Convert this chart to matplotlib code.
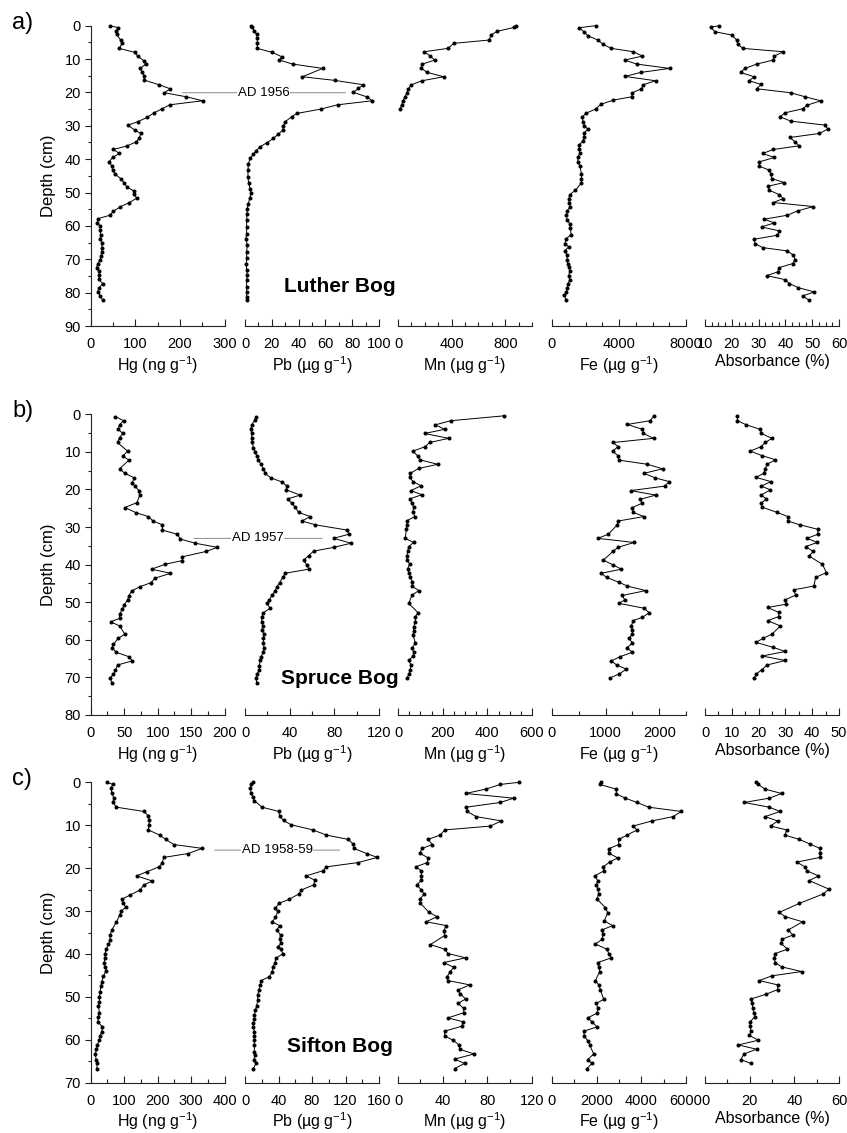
import matplotlib.pyplot as plt
import numpy as np
from matplotlib.patches import ConnectionPatch
from matplotlib.ticker import MultipleLocator

plt.rcParams['font.family'] = ['Liberation Sans', 'DejaVu Sans']
plt.rcParams['mathtext.fontset'] = 'custom'
plt.rcParams['mathtext.rm'] = 'Liberation Sans'
plt.rcParams['mathtext.it'] = 'Liberation Sans:italic'

# ---------------- a) Luther Bog ----------------
luther_hg_d = [0, 0.6, 1.5, 2.6, 4.3, 5.3, 6.8, 8.0, 9.1, 10.6, 11.5, 12.8, 13.8, 15.1, 16.3, 17.7, 18.9, 20.1,
               21.3, 22.5, 23.7, 24.9, 26.1, 27.5, 28.8, 29.8, 31.3, 32.3, 33.6, 34.8, 36.0, 37.1, 38.3, 39.5,
               40.8, 42.0, 43.3, 44.5, 45.8, 47.1, 48.3, 49.5, 50.5, 51.7, 53.1, 54.3, 55.6, 56.8, 57.8, 59.0,
               60.1, 61.3, 62.6, 63.8, 65.1, 66.5, 67.8, 69.0, 70.1, 71.3, 72.5, 73.6, 74.8, 76.0, 77.3, 78.5,
               79.7, 80.9, 82.3]
luther_hg = [43, 62, 57, 58, 67, 70, 64, 99, 105, 120, 123, 111, 114, 120, 120, 153, 178, 165, 214, 251, 177,
             160, 142, 126, 105, 83, 99, 112, 109, 102, 82, 51, 64, 49, 41, 47, 49, 55, 67, 75, 81, 96, 97, 103,
             85, 66, 51, 43, 17, 15, 21, 21, 22, 21, 25, 25, 25, 23, 21, 16, 13, 19, 19, 18, 27, 19, 16, 21, 27]

luther_pb_d = [0, 0.3, 1.5, 2.6, 3.8, 5.3, 6.8, 8.0, 9.3, 10.3, 11.5, 12.8, 15.3, 16.4, 17.7, 18.8, 20.0, 21.3,
               22.5, 23.7, 25.0, 26.3, 27.3, 28.8, 30.1, 31.3, 32.5, 33.8, 35.1, 36.3, 37.5, 38.6, 39.8, 41.5,
               43.3, 45.3, 47.1, 48.8, 50.1, 51.5, 53.3, 54.8, 56.5, 58.3, 60.3, 62.3, 63.8, 65.8, 67.8, 69.5,
               71.3, 73.1, 74.8, 76.3, 78.3, 79.8, 81.3, 82.3]
luther_pb = [4.2, 5.5, 6.7, 8.7, 9.2, 9.2, 9.2, 20.4, 27.4, 25.6, 35.6, 58, 42.8, 67.2, 88.3, 84.6, 80.9, 90.8,
             95, 69.2, 56.5, 38.6, 34.8, 29.9, 28.6, 28.1, 24.9, 21.1, 16.2, 11.2, 8.2, 6.2, 3.7, 2.5, 2.2, 2.2,
             2.7, 3.7, 4.5, 3.7, 2.5, 1.7, 1.5, 1.2, 1.2, 1.2, 0.7, 1.7, 1.2, 1.2, 1.0, 1.2, 1.7, 1.2, 1.2, 1.2,
             1.2, 1.2]

luther_mn_d = [0, 0.5, 1.7, 2.7, 4.3, 5.3, 6.8, 7.8, 9.1, 10.3, 11.5, 12.8, 14.0, 15.3, 16.5, 17.7, 18.9, 20.1,
               21.3, 22.5, 23.7, 25.0]
luther_mn = [878, 868, 739, 697, 679, 415, 373, 194, 241, 274, 182, 174, 219, 341, 179, 100, 77, 67, 52, 37,
             27, 15]

luther_fe_d = [0, 0.6, 1.8, 3.0, 4.3, 5.6, 6.8, 7.8, 9.1, 10.3, 11.5, 12.8, 14.0, 15.2, 16.5, 17.7, 18.9, 20.1,
               21.3, 22.3, 23.6, 25.0, 26.3, 27.5, 28.8, 30.0, 31.0, 32.1, 33.3, 34.5, 35.8, 37.0, 38.3, 39.5,
               40.8, 42.1, 44.3, 45.8, 47.1, 49.3, 50.6, 52.0, 53.1, 54.3, 55.6, 56.8, 58.3, 59.3, 60.6, 62.6,
               63.8, 65.3, 66.3, 67.5, 68.8, 70.1, 71.3, 72.3, 73.5, 74.9, 76.1, 77.4, 78.5, 79.8, 80.8, 82.1]
luther_fe = [2600, 1620, 1900, 2140, 2740, 3060, 3540, 4860, 5400, 4340, 5060, 7020, 5300, 4360, 6180, 5440,
             5340, 4800, 4760, 3660, 2900, 2600, 2000, 1800, 1860, 1940, 2140, 1940, 1900, 1860, 1600, 1640,
             1660, 1540, 1540, 1660, 1760, 1760, 1760, 1400, 1060, 1000, 1040, 1060, 900, 860, 900, 1060, 1100,
             1140, 860, 760, 1000, 760, 900, 900, 940, 1000, 1060, 1000, 1060, 960, 920, 860, 740, 820]

luther_abs_d = [0, 0.5, 1.8, 2.8, 4.3, 5.5, 6.8, 7.8, 9.1, 10.3, 11.5, 12.8, 14.0, 15.3, 16.5, 17.6, 18.9,
                20.1, 21.3, 22.5, 23.8, 24.9, 26.1, 27.3, 28.6, 29.8, 31.0, 32.3, 33.5, 34.8, 36.0, 37.1, 38.3,
                39.5, 40.8, 42.1, 43.3, 44.5, 45.8, 47.0, 48.1, 49.3, 50.6, 51.8, 53.0, 54.2, 55.5, 56.8, 58.0,
                59.1, 60.3, 61.5, 62.8, 64.0, 65.3, 66.5, 67.5, 68.8, 70.1, 71.3, 72.5, 73.8, 74.9, 76.1, 77.3,
                78.5, 79.8, 81.0, 82.3]
luther_abs = [15.3, 12.2, 13.7, 20.0, 21.8, 22.2, 24.1, 39.2, 35.9, 35.5, 29.3, 24.9, 23.3, 28.3, 26.5, 30.9,
              29.3, 42.0, 47.3, 53.2, 48.2, 46.4, 39.9, 38.0, 42.0, 54.8, 55.8, 52.7, 41.7, 43.6, 45.1, 35.5,
              31.5, 35.9, 30.3, 30.3, 34.0, 34.5, 34.9, 39.5, 33.6, 34.0, 37.6, 39.2, 35.5, 50.4, 44.6, 40.7,
              32.1, 35.9, 31.1, 37.7, 37.0, 28.3, 28.7, 31.5, 40.7, 43.0, 43.6, 42.7, 37.6, 37.1, 33.0, 39.9,
              41.5, 44.8, 50.8, 46.4, 48.9]

# ---------------- b) Spruce Bog ----------------
spruce_hg_d = [0.6, 1.7, 2.8, 4.0, 5.1, 6.2, 7.5, 9.8, 11.1, 12.2, 14.5, 15.7, 16.9, 18.2, 19.1, 20.3, 21.6,
               23.5, 24.8, 26.2, 27.2, 28.4, 29.4, 30.8, 31.9, 33.2, 34.3, 35.4, 36.5, 37.9, 38.9, 39.9, 41.2,
               42.3, 43.6, 44.8, 45.9, 47.0, 48.3, 49.4, 50.7, 51.9, 53.2, 54.3, 55.2, 56.3, 58.5, 59.6, 61.2,
               62.1, 63.3, 64.5, 65.6, 66.7, 68.0, 69.1, 70.2, 71.6]
spruce_hg = [37, 49, 43, 41, 48, 43, 40, 55, 48, 57, 43, 51, 65, 62, 66, 72, 73, 69, 51, 68, 86, 93, 107, 107,
             129, 134, 156, 189, 172, 137, 137, 111, 91, 119, 96, 90, 73, 61, 57, 55, 50, 47, 43, 43, 30, 43,
             51, 41, 34, 32, 38, 57, 62, 40, 37, 34, 29, 32]

spruce_pb_d = [0.6, 1.5, 2.8, 4.0, 5.1, 6.4, 7.5, 8.9, 9.9, 11.1, 12.2, 13.2, 14.5, 15.7, 16.9, 18.0, 19.1,
               20.1, 21.5, 22.5, 23.7, 24.7, 26.1, 27.2, 28.4, 29.4, 30.8, 31.9, 33.0, 34.3, 35.4, 36.4, 37.6,
               38.8, 40.1, 41.2, 42.3, 43.4, 44.8, 45.9, 47.0, 48.2, 49.4, 50.3, 51.6, 52.8, 54.0, 55.3, 56.3,
               57.5, 58.5, 59.6, 60.9, 62.1, 63.3, 64.5, 65.5, 66.9, 68.0, 69.2, 70.2, 71.6]
spruce_pb = [9.9, 9.0, 6.0, 5.1, 6.0, 6.0, 6.6, 7.5, 9.0, 10.5, 12.0, 14.1, 16.5, 18.0, 23.1, 33.0, 37.5, 36.9,
             49.5, 38.1, 42.0, 45.0, 48.0, 58.5, 51.0, 63.0, 91.5, 93.0, 79.5, 95.0, 79.5, 61.5, 57.0, 52.5,
             55.5, 57.0, 36.0, 33.9, 30.9, 28.5, 27.0, 24.0, 21.9, 19.5, 22.5, 16.5, 15.0, 15.0, 15.9, 15.0,
             17.1, 16.5, 16.5, 17.1, 16.5, 14.4, 13.5, 12.9, 12.9, 10.5, 9.9, 10.5]

spruce_mn_d = [0.4, 1.7, 2.8, 4.0, 5.1, 6.4, 7.5, 8.6, 9.8, 11.1, 12.1, 13.3, 14.4, 15.7, 16.8, 17.9, 19.0,
               20.3, 21.4, 22.5, 23.7, 24.7, 25.9, 27.2, 28.3, 29.4, 30.6, 33.0, 34.1, 35.2, 36.5, 37.7, 38.8,
               39.8, 41.2, 42.1, 43.2, 44.5, 45.7, 46.9, 48.1, 50.3, 52.8, 53.8, 55.2, 56.5, 57.7, 58.7, 60.9,
               62.1, 63.3, 64.3, 65.5, 66.7, 68.0, 69.2, 70.2]
spruce_mn = [476, 237, 167, 209, 119, 227, 142, 122, 67, 88, 97, 178, 93, 55, 52, 67, 103, 58, 107, 52, 63, 70,
             67, 75, 40, 40, 37, 33, 70, 48, 43, 40, 40, 52, 43, 48, 55, 63, 63, 93, 63, 48, 90, 78, 78, 70,
             70, 67, 78, 63, 70, 67, 48, 58, 55, 48, 40]

spruce_fe_d = [0.4, 1.7, 2.7, 4.0, 5.1, 6.4, 7.5, 8.6, 9.8, 11.0, 12.2, 13.3, 14.5, 15.7, 16.9, 17.9, 19.1,
               20.3, 21.5, 22.6, 23.7, 24.8, 26.1, 27.2, 28.4, 29.4, 31.9, 33.0, 34.1, 35.4, 36.5, 38.8, 40.1,
               41.2, 42.3, 43.4, 44.7, 45.7, 46.9, 48.2, 49.4, 50.3, 51.6, 52.8, 54.0, 54.9, 56.3, 57.5, 58.5,
               59.6, 60.9, 62.1, 63.3, 64.5, 65.6, 66.7, 67.8, 69.1, 70.2]
spruce_fe = [1906, 1831, 1406, 1688, 1706, 1894, 1144, 1231, 1131, 1231, 1250, 1781, 2063, 1719, 1919, 2188,
             2106, 1469, 1938, 1644, 1675, 1500, 1513, 1719, 1231, 1219, 1050, 856, 1531, 1231, 1138, 956,
             1144, 1294, 919, 1019, 1250, 1406, 1750, 1313, 1356, 1250, 1719, 1813, 1688, 1513, 1481, 1500,
             1500, 1438, 1500, 1394, 1500, 1269, 1106, 1206, 1388, 1250, 1075]

spruce_abs_d = [0.4, 1.7, 2.8, 4.0, 5.1, 6.4, 7.5, 8.6, 9.8, 11.0, 12.1, 13.3, 14.5, 15.7, 16.8, 17.9, 19.1,
                20.1, 21.5, 22.5, 23.7, 24.7, 26.1, 27.2, 28.4, 29.4, 30.6, 31.9, 33.0, 34.1, 35.2, 36.5, 37.7,
                39.9, 42.1, 43.4, 45.7, 46.7, 48.1, 49.4, 50.5, 51.4, 52.7, 53.8, 54.9, 56.3, 58.5, 59.6, 60.7,
                62.0, 63.1, 64.3, 65.5, 66.7, 67.9, 69.1, 70.2]
spruce_abs = [12.1, 12.1, 15.4, 20.6, 21.0, 25.0, 22.5, 20.9, 16.9, 21.3, 26.3, 23.1, 22.5, 21.9, 19.1, 24.6,
              21.0, 24.4, 20.9, 22.9, 20.9, 21.3, 26.9, 30.9, 30.9, 35.4, 42.1, 42.1, 38.1, 41.9, 37.5, 40.4,
              38.8, 43.8, 45.3, 41.3, 40.6, 33.1, 33.8, 29.8, 30.4, 23.4, 27.5, 27.5, 23.4, 28.1, 25.0, 21.6,
              19.1, 25.4, 30.0, 21.3, 30.0, 23.1, 21.3, 19.1, 18.4]

# ---------------- c) Sifton Bog ----------------
sifton_hg_d = [0, 0.5, 1.4, 2.4, 3.7, 4.7, 5.8, 6.8, 7.8, 8.9, 9.9, 11.1, 12.3, 13.3, 14.5, 15.4, 16.6, 17.5,
               18.9, 19.7, 20.8, 21.8, 23.0, 23.9, 25.1, 26.3, 27.3, 28.2, 29.1, 30.1, 30.9, 32.5, 34.4, 35.6,
               36.8, 37.7, 38.9, 39.9, 41.0, 42.0, 43.0, 43.9, 45.1, 46.5, 47.5, 48.8, 50.0, 51.3, 52.1, 53.7,
               54.6, 55.8, 57.0, 58.1, 59.1, 60.1, 61.2, 62.2, 63.3, 64.6, 65.5, 66.7]
sifton_hg = [50, 66, 60, 63, 69, 66, 77, 159, 172, 175, 174, 172, 206, 224, 248, 333, 291, 218, 213, 204, 169,
             137, 184, 159, 147, 117, 92, 96, 105, 90, 87, 77, 63, 58, 58, 53, 46, 43, 43, 40, 43, 46, 38, 33,
             30, 28, 26, 26, 23, 26, 23, 21, 35, 33, 28, 25, 20, 17, 14, 16, 20, 18]

sifton_pb_d = [0, 0.5, 1.4, 2.4, 3.5, 4.3, 5.8, 6.8, 7.8, 8.9, 9.9, 11.1, 12.3, 13.3, 14.4, 15.4, 16.6, 17.5,
               18.7, 19.7, 20.6, 21.8, 22.8, 23.9, 25.1, 26.0, 27.3, 28.2, 29.4, 30.1, 31.5, 32.5, 33.4, 34.4,
               35.6, 36.6, 37.5, 38.3, 38.9, 39.9, 41.0, 42.0, 43.1, 44.1, 45.3, 46.2, 47.2, 48.4, 49.6, 50.7,
               52.1, 53.1, 54.2, 55.2, 56.2, 57.1, 58.1, 59.1, 60.1, 61.2, 62.8, 63.6, 64.6, 65.5, 66.7]
sifton_pb = [9.2, 7.2, 6.4, 7.2, 9.2, 11.2, 20.4, 40.4, 41.2, 46.0, 55.2, 81.2, 97.2, 123.2, 129.2, 130.0,
             145.2, 158.0, 135.2, 97.2, 93.2, 73.2, 83.2, 82.0, 67.2, 64.4, 52.4, 40.4, 36.4, 39.2, 36.4, 32.4,
             41.2, 38.0, 42.4, 41.2, 43.2, 39.2, 42.4, 45.2, 37.2, 35.6, 33.2, 32.4, 29.2, 19.2, 18.4, 16.4,
             15.2, 15.2, 14.0, 12.4, 11.2, 11.2, 10.0, 10.0, 11.2, 11.2, 11.2, 11.2, 11.2, 12.4, 10.4, 13.2, 10.0]

sifton_mn_d = [0, 0.5, 1.6, 2.6, 3.7, 4.7, 5.8, 6.8, 8.0, 9.0, 10.2, 11.1, 12.3, 13.3, 14.5, 15.4, 16.5, 17.6,
               18.7, 19.7, 20.6, 21.8, 22.8, 23.9, 25.1, 26.0, 27.2, 28.2, 30.3, 31.3, 32.5, 33.4, 34.6, 35.7,
               37.8, 38.9, 39.9, 40.9, 42.0, 43.1, 44.1, 45.3, 46.2, 47.2, 48.4, 49.3, 50.5, 51.5, 52.7, 53.7,
               54.9, 55.8, 56.8, 58.0, 59.1, 60.1, 61.2, 62.2, 63.3, 64.5, 65.5, 66.7]
sifton_mn = [108.4, 91.6, 78.5, 60.6, 103.6, 91.6, 61.2, 61.8, 70.1, 92.5, 82.7, 41.8, 37.9, 26.9, 30.7, 21.8,
             19.4, 26.9, 26.3, 15.8, 20.9, 20.9, 20.9, 17.0, 20.9, 23.3, 20.0, 20.0, 27.8, 34.9, 25.4, 43.3,
             40.9, 41.8, 29.0, 41.8, 44.8, 60.6, 40.9, 49.8, 46.9, 43.9, 44.8, 64.2, 53.7, 55.8, 60.6, 53.7,
             58.8, 58.8, 44.8, 58.2, 57.6, 41.8, 41.8, 49.3, 54.6, 55.2, 68.1, 50.7, 59.7, 50.7]

sifton_fe_d = [0, 0.5, 1.6, 2.7, 3.7, 4.7, 5.8, 6.8, 8.0, 9.0, 10.2, 11.1, 12.3, 13.3, 14.5, 15.5, 16.5, 17.6,
               18.6, 19.7, 20.6, 21.8, 22.9, 23.9, 24.9, 26.0, 27.2, 29.2, 30.4, 32.3, 33.4, 34.4, 35.4, 36.6,
               37.7, 38.9, 39.9, 40.9, 42.0, 43.0, 44.1, 46.2, 47.2, 48.3, 50.6, 51.5, 52.7, 53.8, 54.9, 55.8,
               57.0, 58.0, 59.1, 60.2, 61.2, 63.3, 64.6, 65.5, 66.7]
sifton_fe = [2195, 2135, 2881, 2881, 3285, 3807, 4330, 5793, 5420, 4479, 3628, 3807, 3359, 2986, 2986, 2538,
             2538, 2941, 2583, 2284, 2344, 1911, 2045, 1986, 2045, 2090, 2015, 2389, 2493, 2344, 2717, 2240,
             2284, 2240, 1941, 2463, 2538, 2658, 2045, 2090, 2135, 1941, 2090, 2165, 2314, 1986, 2045, 2015,
             1597, 1792, 2015, 1418, 1448, 1597, 1687, 1866, 1597, 1792, 1567]

sifton_abs_d = [0, 0.5, 1.6, 2.6, 3.7, 4.7, 5.8, 6.8, 8.0, 9.0, 10.2, 11.1, 12.3, 13.3, 14.4, 15.4, 16.5, 17.5,
                18.6, 19.7, 20.6, 21.8, 22.9, 24.9, 26.0, 28.2, 30.3, 31.3, 32.5, 34.4, 35.6, 36.6, 37.5, 38.9,
                39.9, 40.9, 42.0, 43.0, 44.1, 45.1, 46.2, 47.2, 48.3, 49.4, 50.5, 51.5, 52.7, 53.7, 54.6, 55.8,
                56.8, 58.0, 59.0, 60.1, 61.2, 62.2, 63.3, 64.6, 65.5]
sifton_abs = [22.7, 23.9, 26.9, 34.3, 28.8, 17.5, 28.8, 33.6, 26.9, 32.5, 29.4, 36.6, 35.8, 42.3, 47.0, 51.5,
              51.5, 51.5, 41.1, 44.8, 45.5, 50.8, 46.7, 55.5, 53.0, 42.3, 33.3, 35.8, 43.7, 37.3, 39.3, 34.3,
              34.0, 36.9, 31.4, 31.1, 31.4, 34.3, 43.3, 29.9, 24.3, 32.5, 32.5, 27.3, 20.5, 21.2, 21.3, 21.9,
              22.4, 20.2, 20.2, 20.5, 19.9, 23.9, 14.9, 23.1, 17.5, 16.0, 20.5]

# x-axis labels, ranges (min, max, labelled step, minor step)
xlabels = ["Hg (ng g$^{-1}$)", "Pb (µg g$^{-1}$)", "Mn (µg g$^{-1}$)", "Fe (µg g$^{-1}$)", "Absorbance (%)"]

rows = [
    dict(letter="a)", bog="Luther Bog", depth=90, date="AD 1956", date_d=20.1, date_hg=205, date_pb=75,
         series=[(luther_hg_d, luther_hg), (luther_pb_d, luther_pb), (luther_mn_d, luther_mn),
                 (luther_fe_d, luther_fe), (luther_abs_d, luther_abs)],
         xr=[(0, 300, 100, 50), (0, 100, 20, 10), (0, 1000, 400, 100), (0, 8000, 4000, 1000), (10, 60, 10, 2.5)],
         box=(25.7, 326.0), bog_y=0.13),
    dict(letter="b)", bog="Spruce Bog", depth=80, date="AD 1957", date_d=33.0, date_hg=154, date_pb=69,
         series=[(spruce_hg_d, spruce_hg), (spruce_pb_d, spruce_pb), (spruce_mn_d, spruce_mn),
                 (spruce_fe_d, spruce_fe), (spruce_abs_d, spruce_abs)],
         xr=[(0, 200, 50, 25), (0, 120, 40, 20), (0, 600, 200, 50), (0, 2500, 1000, 500), (0, 50, 10, 5)],
         box=(414.3, 715.0), bog_y=0.123),
    dict(letter="c)", bog="Sifton Bog", depth=70, date="AD 1958-59", date_d=15.8, date_hg=370, date_pb=113,
         series=[(sifton_hg_d, sifton_hg), (sifton_pb_d, sifton_pb), (sifton_mn_d, sifton_mn),
                 (sifton_fe_d, sifton_fe), (sifton_abs_d, sifton_abs)],
         xr=[(0, 400, 100, 50), (0, 160, 40, 20), (0, 120, 40, 20), (0, 6000, 2000, 1000), (0, 60, 20, 10)],
         box=(782.3, 1082.7), bog_y=0.119),
]

W, H = 847, 1133
col_left = [90.7, 245, 398, 552, 705]
col_w = 134

fig = plt.figure(figsize=(W / 100, H / 100), dpi=100)

for row in rows:
    top, bot = row["box"]
    axes = []
    for i, (d, v) in enumerate(row["series"]):
        ax = fig.add_axes([col_left[i] / W, 1 - bot / H, col_w / W, (bot - top) / H])
        ax.plot(v, d, '-o', color='black', lw=0.7, ms=1.9, clip_on=False)
        xmin, xmax, step, mstep = row["xr"][i]
        ax.set_xlim(xmin, xmax)
        ax.set_ylim(row["depth"], 0)
        ax.xaxis.set_major_locator(MultipleLocator(step))
        ax.xaxis.set_minor_locator(MultipleLocator(mstep))
        ax.tick_params(axis='x', which='both', direction='in', colors='#222222', labelcolor='black')
        ax.tick_params(axis='x', which='major', length=5, width=0.8, labelsize=10.5, pad=8)
        ax.tick_params(axis='x', which='minor', length=3, width=0.8)
        ax.set_xlabel(xlabels[i], fontsize=11.5, labelpad=2)
        for s in ['top', 'right']:
            ax.spines[s].set_visible(False)
        ax.spines['bottom'].set_color('#222222')
        ax.spines['bottom'].set_linewidth(0.8)
        if i == 0:
            ax.spines['left'].set_color('#222222')
            ax.spines['left'].set_linewidth(0.8)
            ax.yaxis.set_major_locator(MultipleLocator(10))
            ax.yaxis.set_minor_locator(MultipleLocator(5))
            ax.tick_params(axis='y', which='both', direction='out', colors='#222222', labelcolor='black')
            ax.tick_params(axis='y', which='major', length=4, width=0.8, labelsize=10.5, pad=3)
            ax.tick_params(axis='y', which='minor', length=2.5, width=0.8)
            ax.set_ylabel("Depth (cm)", fontsize=12, labelpad=6)
        else:
            ax.spines['left'].set_visible(False)
            ax.tick_params(axis='y', which='both', left=False, labelleft=False)
        ax.patch.set_alpha(0)
        axes.append(ax)

    ax_hg, ax_pb = axes[0], axes[1]
    # AD date marker line between Hg and Pb panels
    con = ConnectionPatch(xyA=(row["date_hg"], row["date_d"]), coordsA=ax_hg.transData,
                          xyB=(row["date_pb"], row["date_d"]), coordsB=ax_pb.transData,
                          color='#777777', lw=0.6)
    fig.add_artist(con)
    pa = ax_hg.transData.transform((row["date_hg"], row["date_d"]))
    pb = ax_pb.transData.transform((row["date_pb"], row["date_d"]))
    mx, my = fig.transFigure.inverted().transform((pa + pb) / 2)
    fig.text(mx, my, row["date"], ha='center', va='center', fontsize=9.5,
             bbox=dict(facecolor='white', edgecolor='none', pad=0.5))

    ax_pb.text(0.71, row["bog_y"], row["bog"], transform=ax_pb.transAxes, ha='center', va='center',
               fontsize=15, fontweight='bold', family=['Liberation Sans Narrow', 'Liberation Sans'])

    fig.text(12 / W, 1 - (top - 3) / H, row["letter"], fontsize=17, ha='left', va='center')

fig.savefig("out.png", dpi=100)
